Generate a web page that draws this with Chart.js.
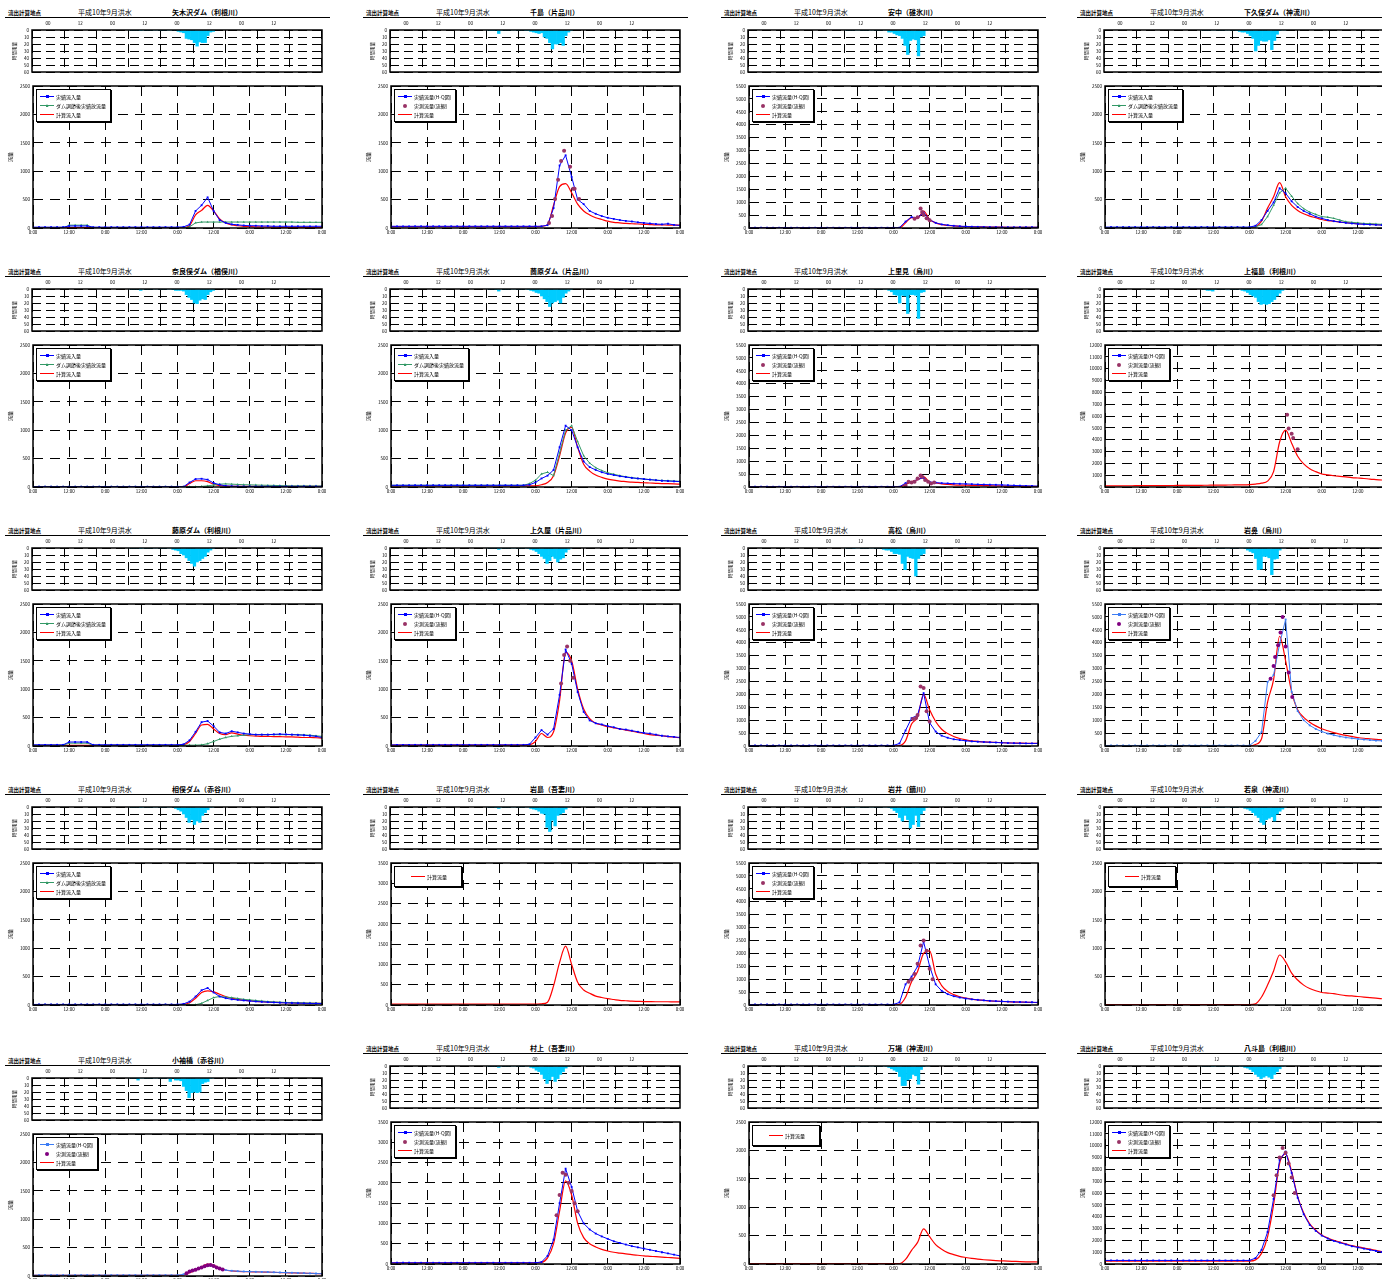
<!DOCTYPE html>
<html>
<head>
<meta charset="utf-8">
<script src="https://cdn.jsdelivr.net/npm/chart.js@4.4.0/dist/chart.umd.min.js"></script>
<style>
body { margin:0; background:#fff; width:1382px; height:1279px; overflow:hidden; position:relative; font-family:"Noto Sans CJK JP", sans-serif; }
.panel { position:absolute; width:340px; height:262px; }
.head { position:absolute; left:5px; top:7px; width:325px; height:10px; border-bottom:1px solid #000; line-height:10px; white-space:nowrap; }
.tag { position:absolute; left:3px; top:1px; font-size:5.5px; font-weight:bold; }
.flood { position:absolute; left:73px; top:0; font-size:7px; }
.name { position:absolute; left:167px; top:0; font-size:7px; font-weight:bold; }
canvas { position:absolute; }
.lg { position:absolute; border:1px solid #000; box-shadow:1px 1px 0 #000; background:#fff; padding:2px 4px 2px 3px; font-size:5px; line-height:9px; white-space:nowrap; z-index:2; }
.lg.single { padding:5px 14px 5px 16px; }
.smp { display:inline-block; position:relative; width:14px; height:9px; vertical-align:top; margin-right:2px; }
.ln { position:absolute; left:0; top:4px; width:14px; height:0; border-top:1px solid; }
.mk { position:absolute; left:5.5px; top:3px; width:3px; height:3px; }
.tri { clip-path:polygon(50% 0, 100% 100%, 0 100%); }
.dt { position:absolute; left:5px; top:2.5px; width:4px; height:4px; border-radius:50%; }
</style>
</head>
<body>
<script>
// time axis: hours from 0:00 of day 1, every 2 hours (flows) / hourly (rain)
const hours = [0,2,4,6,8,10,12,14,16,18,20,22,24,26,28,30,32,34,36,38,40,42,44,46,48,50,52,54,56,58,60,62,64,66,68,70,72,74,76,78,80,82,84,86,88,90,92,94,96];
const rainHours = [30,31,32,33,34,35,36,37,38,39,40,41,42,43,44,45,46,47,48,49,50,51,52,53,54,55,56,57,58,59,60,61];

// 矢木沢ダム
const yagisawaRain = [0,0,0,0,1,0,0,0,0,0,0,0,0,0,0,0,0,0,2,3,4,12,13,14,18,23,17,18,18,8,3,2];
const yagisawaInflow = [15,15,15,15,15,15,35,35,35,35,15,15,15,15,15,15,15,15,15,15,15,15,15,15,15,20,60,300,400,540,300,140,90,65,55,45,40,40,35,35,30,30,30,30,30,30,30,30,30];
const yagisawaOutflow = [0,0,0,0,0,0,50,50,50,50,0,0,0,0,0,0,0,0,0,0,0,0,0,0,0,0,20,90,105,105,105,105,105,105,105,105,105,105,105,105,105,105,105,105,100,100,100,100,100];
const yagisawaCalc = [5,5,5,5,5,5,5,5,5,5,5,5,5,5,5,5,5,5,5,5,5,5,5,5,5,5,40,230,310,400,300,160,90,55,40,30,25,20,20,15,15,12,12,10,10,10,10,10,10];

// 千島
const chishimaRain = [0,1,1,0,5,1,0,0,0,0,0,0,0,0,1,1,2,3,4,5,4,10,12,18,27,20,20,18,22,8,3,1];
const chishimaHQ = [30,30,30,30,30,30,30,30,30,30,30,30,30,30,30,30,30,30,30,30,30,30,30,30,30,30,50,350,1100,1280,900,500,420,300,250,210,180,160,140,125,115,100,90,80,70,65,75,55,45];
const chishimaObsH = [52.5,53.5,54.5,55.5,56.5,57.5,59.5,60.5,61,62.5];
const chishimaObsQ = [90,210,510,850,1180,1360,1080,690,690,510];
const chishimaCalc = [25,25,25,25,25,25,25,25,25,25,25,25,25,25,25,25,25,25,25,25,25,25,25,25,25,30,60,400,730,780,620,420,300,230,180,150,120,100,90,80,75,70,65,60,55,55,50,50,50];

// 安中
const annakaRain = [0,0,0,0,0,0,0,0,0,0,0,0,0,0,0,0,3,3,5,7,8,12,22,35,15,13,14,37,10,8,1,0];
const annakaHQ = [10,10,10,10,10,10,10,10,10,10,10,10,10,10,10,10,10,10,10,10,10,10,10,10,10,15,250,420,400,600,320,200,140,110,85,70,60,50,45,40,35,35,30,30,30,30,30,30,30];
const annakaObsH = [55,56,57,57.5,58,59,60];
const annakaObsQ = [360,420,760,620,500,380,300];
const annakaCalc = [10,10,10,10,10,10,10,10,10,10,10,10,10,10,10,10,10,10,10,10,10,10,10,10,10,10,200,400,380,650,330,200,130,100,80,65,55,50,45,40,38,35,32,30,28,27,26,25,25];

// 下久保ダム
const shimokuboRain = [0,0,0,0,0,0,0,0,0,0,0,0,0,1,2,3,3,5,8,12,30,22,15,16,16,14,28,15,6,1,0,0];
const shimokuboInflow = [15,15,15,15,15,15,15,15,15,15,15,15,15,15,15,15,15,15,15,15,15,15,15,15,15,40,140,300,450,700,610,470,370,300,250,200,170,140,120,105,90,80,70,65,60,55,50,48,45];
const shimokuboOutflow = [10,10,10,10,10,10,10,10,10,10,10,10,10,10,10,10,10,10,10,10,10,10,10,10,10,20,60,200,400,620,700,560,430,340,280,240,200,190,170,140,110,100,90,80,75,70,65,60,55];
const shimokuboCalc = [5,5,5,5,5,5,5,5,5,5,5,5,5,5,5,5,5,5,5,5,5,5,5,5,5,20,120,350,550,800,550,400,310,250,210,180,150,130,120,105,95,85,75,70,65,60,55,50,45];

// 奈良俣ダム
const naramataRain = [0,0,0,0,2,0,0,0,0,0,0,0,0,0,0,0,1,2,2,2,3,8,12,15,20,21,16,14,15,8,4,2];
const naramataInflow = [5,5,5,5,5,5,5,5,5,5,5,5,5,5,5,5,5,5,5,5,5,5,5,5,5,5,80,140,145,130,70,40,20,15,12,10,10,10,10,10,10,10,10,10,10,10,10,10,10];
const naramataOutflow = [5,5,5,5,5,5,5,5,5,5,5,5,5,5,5,5,5,5,5,5,5,5,5,5,5,5,5,5,10,20,35,50,55,50,45,40,38,35,32,30,28,25,22,20,20,20,18,18,18];
const naramataCalc = [0,0,0,0,0,0,0,0,0,0,0,0,0,0,0,0,0,0,0,0,0,0,0,0,0,0,60,110,110,95,50,25,15,10,10,10,10,10,10,10,10,10,10,10,10,10,10,10,10];

// 薗原ダム
const sonoharaRain = [0,0,0,1,3,0,0,0,0,0,0,0,0,0,0,1,2,3,5,6,10,14,18,25,20,18,16,20,12,6,3,1];
const sonoharaInflow = [30,30,30,30,30,30,30,30,30,30,30,30,30,30,30,30,30,30,30,30,30,30,30,40,80,150,200,300,700,1080,1000,700,450,350,300,260,230,210,190,175,160,150,140,130,120,110,105,100,95];
const sonoharaOutflow = [30,30,30,30,30,30,30,30,30,30,30,30,30,30,30,30,30,30,30,30,30,30,30,60,120,230,260,200,600,1000,1080,800,550,420,340,290,250,225,200,180,165,150,140,130,120,115,110,105,100];
const sonoharaCalc = [20,20,20,20,20,20,20,20,20,20,20,20,20,20,20,20,20,20,20,20,20,20,20,20,20,40,80,200,550,950,1050,700,400,280,210,170,140,120,105,95,85,80,75,70,65,60,58,55,50];

// 上里見
const kamisatomiRain = [0,0,0,0,0,0,0,0,0,0,0,0,0,0,0,0,2,4,8,9,20,9,10,35,8,8,9,42,5,4,0,0];
const kamisatomiHQ = [10,10,10,10,10,10,10,10,10,10,10,10,10,10,10,10,10,10,10,10,10,10,10,10,10,10,150,190,300,350,190,170,150,140,130,125,120,110,100,95,90,85,80,70,60,50,45,40,35];
const kamisatomiObsH = [52,53,54,55,56,57,57.5,58.5,59.5,60.5,61.5];
const kamisatomiObsQ = [60,200,170,200,330,450,400,270,200,140,170];
const kamisatomiCalc = [5,5,5,5,5,5,5,5,5,5,5,5,5,5,5,5,5,5,5,5,5,5,5,5,5,5,100,200,280,400,190,160,120,100,85,75,70,65,60,55,50,45,40,35,30,28,25,22,20];

// 上福島
const kamifukushimaRain = [0,1,2,2,3,1,0,0,0,0,0,0,0,0,0,2,3,5,8,10,12,18,22,21,22,21,18,15,10,6,2,0];
const kamifukushimaHQ = [];
const kamifukushimaObsH = [60.5,61,62,62.5,64];
const kamifukushimaObsQ = [6100,4950,4500,4150,3200];
const kamifukushimaCalc = [100,100,100,105,105,110,110,115,115,120,120,125,130,130,135,140,145,150,155,160,165,170,175,180,200,250,330,500,1300,3800,4800,3700,2600,1950,1550,1300,1100,1020,950,900,850,800,760,720,670,630,590,550,500];

// 藤原ダム
const fujiwaraRain = [0,0,0,0,1,0,0,0,0,0,0,0,0,0,0,0,2,3,4,8,10,14,18,22,26,20,18,15,12,6,3,1];
const fujiwaraInflow = [20,20,20,20,20,20,70,70,70,70,20,20,20,20,20,20,20,20,20,20,20,20,20,20,20,30,100,250,420,440,350,240,220,260,240,220,210,200,200,200,205,210,205,200,195,190,180,170,150];
const fujiwaraOutflow = [15,15,15,15,15,15,50,50,50,50,15,15,15,15,15,15,15,15,15,15,15,15,15,15,15,15,15,15,20,40,80,120,150,170,180,190,200,200,200,200,200,200,200,200,200,195,190,180,170];
const fujiwaraCalc = [10,10,10,10,10,10,10,10,10,10,10,10,10,10,10,10,10,10,10,10,10,10,10,10,10,20,80,220,370,380,300,220,200,230,210,190,180,175,170,170,165,165,160,160,155,150,150,145,140];

// 上久屋
const kamikuyaRain = [0,0,0,0,2,0,0,0,0,0,0,0,0,0,0,1,2,3,5,8,12,15,22,18,12,15,20,16,14,6,2,0];
const kamikuyaHQ = [20,20,20,20,20,20,20,20,20,20,20,20,20,20,20,20,20,20,20,20,20,20,20,30,150,280,200,300,900,1700,1450,950,600,450,400,380,350,330,300,290,270,250,230,220,200,180,170,160,150];
const kamikuyaObsH = [56.5,57.5,58.5,59.5,60.5];
const kamikuyaObsQ = [1100,1600,1750,1500,1200];
const kamikuyaCalc = [15,15,15,15,15,15,15,15,15,15,15,15,15,15,15,15,15,15,15,15,15,15,15,20,80,220,150,250,800,1650,1500,1000,650,480,400,370,340,320,300,280,260,240,220,200,190,180,165,155,145];

// 高松
const takamatsuRain = [0,0,0,1,0,0,0,0,0,0,0,0,0,0,2,3,3,5,8,8,9,22,31,12,14,15,40,15,10,8,1,0];
const takamatsuHQ = [20,20,20,20,20,20,20,20,20,20,20,20,20,20,20,20,20,20,20,20,20,20,20,20,20,100,600,1080,1190,2050,900,560,400,320,260,230,200,180,165,155,145,135,125,115,110,105,100,100,100];
const takamatsuObsH = [54.5,55.5,56,57,58,59,60];
const takamatsuObsQ = [1050,1080,1200,2300,2250,1350,950];
const takamatsuCalc = [10,10,10,10,10,10,10,10,10,10,10,10,10,10,10,10,10,10,10,10,10,10,10,10,10,20,200,850,1120,2000,1400,950,650,480,370,290,240,200,180,160,150,140,130,120,115,110,105,100,100];

// 岩鼻
const iwahanaRain = [0,0,0,0,0,0,0,0,0,0,0,0,0,0,0,0,1,3,5,7,15,31,30,12,12,14,38,16,15,3,0,0];
const iwahanaHQ = [20,20,20,20,20,20,20,20,20,20,20,20,20,20,20,20,20,20,20,20,20,20,20,20,20,200,540,2480,2750,3950,4900,2100,1350,1000,800,660,560,480,420,370,330,300,270,250,230,210,200,190,180];
const iwahanaObsH = [55,56,56.5,57.5,58.3,59,60,61,62.2];
const iwahanaObsQ = [2600,3100,3450,3900,4400,5000,3850,2850,1900];
const iwahanaCalc = [10,10,10,10,10,10,10,10,10,10,10,10,10,10,10,10,10,10,10,10,10,10,10,10,10,60,280,1700,2570,4250,3300,2100,1400,1110,920,780,670,590,520,460,410,370,330,300,280,260,240,220,200];

// 相俣ダム
const aimataRain = [0,0,0,0,1,0,0,0,0,0,0,0,0,0,0,0,0,2,4,6,10,15,22,18,25,20,22,12,8,4,1,0];
const aimataInflow = [10,10,10,10,10,10,10,10,10,10,10,10,10,10,10,10,10,10,10,10,10,10,10,10,10,20,60,150,260,300,220,150,120,100,90,80,70,62,55,50,45,40,37,35,32,30,28,26,25];
const aimataOutflow = [5,5,5,5,5,5,5,5,5,5,5,5,5,5,5,5,5,5,5,5,5,5,5,5,5,5,5,5,30,80,130,150,140,130,115,100,90,80,70,60,55,50,45,42,40,38,35,33,30];
const aimataCalc = [5,5,5,5,5,5,5,5,5,5,5,5,5,5,5,5,5,5,5,5,5,5,5,5,5,10,40,120,220,250,230,190,150,120,100,85,75,65,58,52,48,44,40,37,34,32,30,28,26];

// 岩島
const iwashimaRain = [0,0,0,1,2,0,0,0,0,0,0,0,0,0,0,0,2,3,4,6,9,10,29,35,19,27,12,10,8,3,0,0];
const iwashimaCalc = [20,20,20,20,20,20,20,20,20,20,20,20,20,20,20,20,20,20,20,20,20,20,20,20,20,30,70,470,1050,1450,1000,560,370,290,220,185,155,135,115,105,95,90,85,82,80,80,80,78,78];

// 岩井
const iwaiRain = [0,0,0,0,0,0,0,0,0,0,0,0,0,0,0,0,1,2,5,8,15,20,12,18,30,25,12,28,10,5,1,0];
const iwaiHQ = [20,20,20,20,20,20,20,20,20,20,20,20,20,20,20,20,20,20,20,20,20,20,20,20,20,100,800,1100,1500,2450,1500,800,550,420,340,290,250,220,200,180,160,150,140,130,120,115,110,105,100];
const iwaiObsH = [53,54,55,56,57,58,59,60,61];
const iwaiObsQ = [900,1000,1200,1600,2300,2500,2100,1400,1000];
const iwaiCalc = [10,10,10,10,10,10,10,10,10,10,10,10,10,10,10,10,10,10,10,10,10,10,10,10,10,30,300,900,1300,2000,2100,1200,750,520,400,320,270,230,200,180,160,145,135,125,115,110,105,100,95];

// 若泉
const wakaizumiRain = [0,0,0,0,0,0,0,0,0,0,0,0,0,0,0,1,2,3,5,8,12,15,22,25,18,16,14,20,10,6,3,1];
const wakaizumiCalc = [5,5,5,5,5,5,5,5,5,5,5,5,5,5,5,5,5,5,5,5,5,5,5,5,5,20,140,350,600,880,760,560,440,350,290,250,220,210,200,180,165,160,150,140,130,120,110,105,100];

// 小袖橋
const kosodeRain = [0,0,0,3,0,0,0,0,0,0,0,0,0,0,0,5,0,3,3,4,12,18,28,21,20,21,20,8,6,5,1,0];
const kosodeHQ = [15,15,15,15,15,15,15,15,15,15,15,15,15,15,15,15,15,15,15,15,15,15,15,15,15,30,75,110,150,185,170,135,105,92,85,80,77,74,72,70,66,63,60,57,54,50,47,44,40];
const kosodeObsH = [51,52,53,54,55,56,57,58,59,60,61,62,63];
const kosodeObsQ = [50,80,95,110,130,150,170,190,195,175,150,130,115];
const kosodeCalc = [10,10,10,10,10,10,10,10,10,10,10,10,10,10,10,10,10,10,10,10,10,10,10,10,10,20,60,100,160,210,190,140,105,90,82,78,75,72,70,68,64,61,58,55,52,49,46,43,40];

// 村上
const murakamiRain = [0,0,0,0,2,0,0,0,0,0,0,0,0,0,0,0,2,3,6,8,12,18,25,20,15,22,18,12,8,3,1,0];
const murakamiHQ = [30,30,30,30,30,30,30,30,30,30,30,30,30,30,30,30,30,30,30,30,30,30,30,30,30,50,200,600,1500,2350,1900,1300,1000,850,750,680,620,560,520,480,440,410,380,350,320,290,260,230,200];
const murakamiObsH = [55,56,57,58,59,60,61,62];
const murakamiObsQ = [1200,1700,2250,2200,2000,1800,1500,1300];
const murakamiCalc = [30,30,30,30,30,30,30,30,30,30,30,30,30,30,30,30,30,30,30,30,30,30,30,30,30,40,150,500,1300,2050,1700,1000,650,500,420,360,320,290,270,250,230,215,200,190,180,170,160,150,140];

// 万場
const manbaRain = [0,0,0,0,0,0,0,0,0,0,0,0,0,0,0,1,2,4,6,8,15,28,28,20,18,12,14,26,5,1,0,0];
const manbaCalc = [8,8,8,8,8,8,8,8,8,8,8,8,8,8,8,8,8,8,8,8,8,8,8,8,8,8,80,240,380,620,480,340,260,200,165,135,115,98,85,75,67,60,55,50,46,42,39,37,35];

// 八斗島
const yattajimaRain = [0,0,0,0,1,0,0,0,0,0,0,0,0,0,0,1,2,3,5,8,12,15,18,16,14,16,18,12,8,4,1,0];
const yattajimaHQ = [300,300,300,300,300,300,300,300,300,300,300,300,300,300,300,300,300,300,300,300,300,300,300,300,300,500,1200,2700,5500,8800,9500,7700,5600,4200,3300,2800,2400,2150,1950,1800,1650,1500,1400,1300,1200,1100,1000,950,900];
const yattajimaObsH = [56,57,58,59,60,61,62,63];
const yattajimaObsQ = [5800,7500,9000,9800,9400,8500,7300,6000];
const yattajimaCalc = [250,250,250,250,250,250,250,250,250,250,250,250,250,250,250,250,250,250,250,250,250,250,250,250,250,350,900,2300,5000,8500,9300,7800,5700,4300,3400,2850,2450,2200,2000,1850,1700,1550,1450,1350,1250,1150,1050,1000,950];

const floodLabel = '平成10年9月洪水';
const tagLabel = '流出計算地点';

const panels = [
  {name:'矢木沢ダム（利根川）', kind:'dam', ymax:2500, step:500, rain:yagisawaRain, main:yagisawaInflow, green:yagisawaOutflow, calc:yagisawaCalc},
  {name:'千島（片品川）', kind:'obs', ymax:2500, step:500, rain:chishimaRain, main:chishimaHQ, obsH:chishimaObsH, obsQ:chishimaObsQ, calc:chishimaCalc},
  {name:'安中（碓氷川）', kind:'obs', ymax:5500, step:500, rain:annakaRain, main:annakaHQ, obsH:annakaObsH, obsQ:annakaObsQ, calc:annakaCalc},
  {name:'下久保ダム（神流川）', kind:'dam', ymax:2500, step:500, rain:shimokuboRain, main:shimokuboInflow, green:shimokuboOutflow, calc:shimokuboCalc},
  {name:'奈良俣ダム（楢俣川）', kind:'dam', ymax:2500, step:500, rain:naramataRain, main:naramataInflow, green:naramataOutflow, calc:naramataCalc},
  {name:'薗原ダム（片品川）', kind:'dam', ymax:2500, step:500, rain:sonoharaRain, main:sonoharaInflow, green:sonoharaOutflow, calc:sonoharaCalc},
  {name:'上里見（烏川）', kind:'obs', ymax:5500, step:500, rain:kamisatomiRain, main:kamisatomiHQ, obsH:kamisatomiObsH, obsQ:kamisatomiObsQ, calc:kamisatomiCalc},
  {name:'上福島（利根川）', kind:'obs', ymax:12000, step:1000, rain:kamifukushimaRain, main:kamifukushimaHQ, obsH:kamifukushimaObsH, obsQ:kamifukushimaObsQ, calc:kamifukushimaCalc},
  {name:'藤原ダム（利根川）', kind:'dam', ymax:2500, step:500, rain:fujiwaraRain, main:fujiwaraInflow, green:fujiwaraOutflow, calc:fujiwaraCalc},
  {name:'上久屋（片品川）', kind:'obs', ymax:2500, step:500, rain:kamikuyaRain, main:kamikuyaHQ, obsH:kamikuyaObsH, obsQ:kamikuyaObsQ, calc:kamikuyaCalc},
  {name:'高松（烏川）', kind:'obs', ymax:5500, step:500, rain:takamatsuRain, main:takamatsuHQ, obsH:takamatsuObsH, obsQ:takamatsuObsQ, calc:takamatsuCalc},
  {name:'岩鼻（烏川）', kind:'obs', ymax:5500, step:500, rain:iwahanaRain, main:iwahanaHQ, obsH:iwahanaObsH, obsQ:iwahanaObsQ, calc:iwahanaCalc, light:true},
  {name:'相俣ダム（赤谷川）', kind:'dam', ymax:2500, step:500, rain:aimataRain, main:aimataInflow, green:aimataOutflow, calc:aimataCalc},
  {name:'岩島（吾妻川）', kind:'calc', ymax:3500, step:500, rain:iwashimaRain, calc:iwashimaCalc},
  {name:'岩井（鏑川）', kind:'obs', ymax:5500, step:500, rain:iwaiRain, main:iwaiHQ, obsH:iwaiObsH, obsQ:iwaiObsQ, calc:iwaiCalc},
  {name:'若泉（神流川）', kind:'calc', ymax:2500, step:500, rain:wakaizumiRain, calc:wakaizumiCalc},
  {name:'小袖橋（赤谷川）', kind:'obs', ymax:2500, step:500, rain:kosodeRain, main:kosodeHQ, obsH:kosodeObsH, obsQ:kosodeObsQ, calc:kosodeCalc, light:true},
  {name:'村上（吾妻川）', kind:'obs', ymax:3500, step:500, rain:murakamiRain, main:murakamiHQ, obsH:murakamiObsH, obsQ:murakamiObsQ, calc:murakamiCalc},
  {name:'万場（神流川）', kind:'calc', ymax:2500, step:500, rain:manbaRain, calc:manbaCalc},
  {name:'八斗島（利根川）', kind:'obs', ymax:12000, step:1000, rain:yattajimaRain, main:yattajimaHQ, obsH:yattajimaObsH, obsQ:yattajimaObsQ, calc:yattajimaCalc}
];

const colX = [0, 358, 716, 1072];
const rowY = [0, 259, 518, 777, 1036];

const BLUE = '#0000ff', LIGHTBLUE = '#3c7cf5', GREEN = '#339966', RED = '#ff0000', PLUM = '#993366', RAIN = '#00ccff';

Chart.defaults.font.family = '"Noto Sans CJK JP", sans-serif';
Chart.defaults.color = '#000';

// thick frame round the plot area
const boxPlugin = {
  id: 'box',
  afterDraw(chart) {
    const {ctx, chartArea: a} = chart;
    ctx.save();
    ctx.setLineDash([]);
    ctx.strokeStyle = '#000';
    ctx.lineWidth = 1.5;
    ctx.strokeRect(a.left, a.top, a.right - a.left, a.bottom - a.top);
    ctx.restore();
  }
};

function gridOpts(dash) {
  return {
    grid: { color: '#000', lineWidth: 1, drawTicks: false, borderDash: dash },
    border: { display: false, dash: dash }
  };
}

function sample(kind, color) {
  let s = '<span class="smp">';
  if (kind !== 'dot') s += `<i class="ln" style="border-top-color:${color}"></i>`;
  if (kind === 'rect') s += `<i class="mk" style="background:${color}"></i>`;
  if (kind === 'tri') s += `<i class="mk tri" style="background:${color}"></i>`;
  if (kind === 'dot') s += `<i class="dt" style="background:${color}"></i>`;
  return s + '</span>';
}

function makeCanvas(parent, left, top, w, h) {
  const cv = document.createElement('canvas');
  cv.width = w; cv.height = h;
  cv.style.left = left + 'px'; cv.style.top = top + 'px';
  cv.style.width = w + 'px'; cv.style.height = h + 'px';
  parent.appendChild(cv);
  return cv;
}

const common = { responsive: false, animation: false, devicePixelRatio: 1, events: [],
  plugins: { legend: { display: false }, tooltip: { enabled: false } } };

panels.forEach((p, i) => {
  const col = i % 4, row = Math.floor(i / 4);
  const ox = colX[col], oy = rowY[row] + (i === 16 ? 12 : 0);
  const blue = p.light ? LIGHTBLUE : BLUE;
  const plum = p.light ? '#800080' : PLUM;

  const div = document.createElement('div');
  div.className = 'panel';
  div.style.left = ox + 'px';
  div.style.top = oy + 'px';
  div.innerHTML = `<div class="head"><span class="tag">${tagLabel}</span><span class="flood">${floodLabel}</span><span class="name">${p.name}</span></div>`;
  document.body.appendChild(div);

  // rainfall (hanging bars)
  const rc = makeCanvas(div, 0, 18, 340, 60);
  new Chart(rc, {
    type: 'bar',
    data: { datasets: [{
      data: p.rain.map((v, k) => ({ x: rainHours[k] + 0.5, y: v })),
      backgroundColor: RAIN, borderWidth: 0, barPercentage: 1, categoryPercentage: 1
    }] },
    options: Object.assign({}, common, {
      layout: { padding: { left: 0, right: 18, top: 0, bottom: 6 } },
      scales: {
        x: Object.assign({ type: 'linear', position: 'top', min: 0, max: 96,
          ticks: { stepSize: 12, autoSkip: false, maxRotation: 0, padding: 4, font: { size: 4.5 },
            callback: v => v === 96 ? '' : (v % 24 === 0 ? '00' : '12') },
          afterFit: s => { s.height = 12; } }, gridOpts([9, 5])),
        y: Object.assign({ reverse: true, min: 0, max: 60,
          ticks: { stepSize: 10, autoSkip: false, padding: 3, font: { size: 4.5 }, callback: v => String(v) },
          title: { display: true, text: '時間雨量', font: { size: 4.5 }, padding: { top: 12, bottom: 0 } },
          afterFit: s => { s.width = 32; } }, gridOpts([9, 5]))
      }
    }),
    plugins: [boxPlugin]
  });

  // discharge
  const ds = [];
  if (p.obsQ) ds.push({ data: p.obsQ.map((v, k) => ({ x: p.obsH[k], y: v })), showLine: false,
    pointStyle: 'circle', pointRadius: 2, pointBackgroundColor: plum, pointBorderWidth: 0 });
  if (p.main && p.main.length) ds.push({ data: p.main.map((v, k) => ({ x: hours[k], y: v })),
    borderColor: blue, borderWidth: 1, pointStyle: 'rect', pointRadius: 1.3, pointBackgroundColor: blue, pointBorderWidth: 0 });
  if (p.green) ds.push({ data: p.green.map((v, k) => ({ x: hours[k], y: v })),
    borderColor: GREEN, borderWidth: 1, pointStyle: 'triangle', pointRadius: 1.4, pointBackgroundColor: GREEN, pointBorderWidth: 0 });
  ds.push({ data: p.calc.map((v, k) => ({ x: hours[k], y: v })),
    borderColor: RED, borderWidth: 1.2, pointRadius: 0, cubicInterpolationMode: 'monotone' });

  const hc = makeCanvas(div, 0, 80, 340, 156);
  new Chart(hc, {
    type: 'line',
    data: { datasets: ds },
    options: Object.assign({}, common, {
      layout: { padding: { left: 0, right: 18, top: 6, bottom: 0 } },
      scales: {
        x: Object.assign({ type: 'linear', min: 0, max: 96,
          ticks: { stepSize: 12, autoSkip: false, maxRotation: 0, padding: 2, font: { size: 4.5 },
            callback: v => (v % 24 === 0 ? '0:00' : '12:00') },
          afterFit: s => { s.height = 8; } }, gridOpts([10, 7])),
        y: Object.assign({ min: 0, max: p.ymax,
          ticks: { stepSize: p.step, autoSkip: false, padding: 3, font: { size: 4.5 }, callback: v => String(v) },
          title: { display: true, text: '流量', font: { size: 5 }, padding: { top: 7, bottom: 0 } },
          afterFit: s => { s.width = 33; } }, gridOpts([10, 7]))
      }
    }),
    plugins: [boxPlugin]
  });

  // legend box
  const lg = document.createElement('div');
  lg.className = 'lg' + (p.kind === 'calc' ? ' single' : '');
  lg.style.left = '36px';
  lg.style.top = '89px';
  let rows;
  if (p.kind === 'dam') rows = [['rect', blue, '実績流入量'], ['tri', GREEN, 'ダム調節後実績放流量'], ['line', RED, '計算流入量']];
  else if (p.kind === 'obs') rows = [['rect', blue, '実績流量(H-Q図)'], ['dot', plum, '実測流量(流観)'], ['line', RED, '計算流量']];
  else rows = [['line', RED, '計算流量']];
  lg.innerHTML = rows.map(r => `<div>${sample(r[0], r[1])}${r[2]}</div>`).join('');
  div.appendChild(lg);
});
</script>
</body>
</html>
